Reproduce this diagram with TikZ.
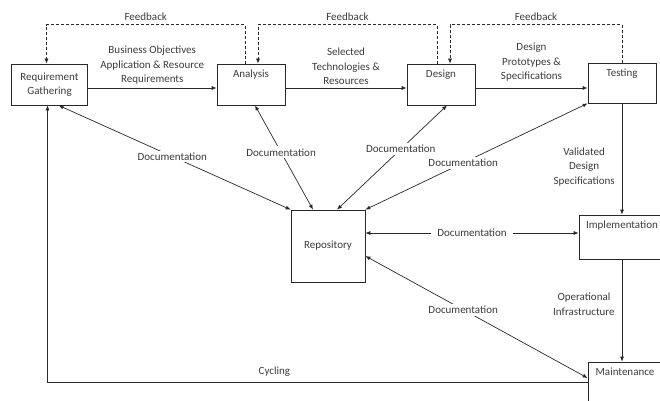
\documentclass[tikz,border=0pt]{standalone}
\usepackage{fontspec}
\setmainfont{Carlito}
\usetikzlibrary{arrows.meta,positioning}
\definecolor{ink}{RGB}{40,40,40}
\definecolor{txt}{RGB}{60,60,60}
\tikzset{
  stg/.style={draw=ink,line width=0.7pt,minimum width=68pt,minimum height=41pt,inner sep=0pt},
  stgtxt/.style={anchor=north,yshift=-4.5pt,inner sep=2pt,text=txt},
  lbl/.style={text=txt,align=center,inner sep=1pt},
  dlbl/.style={text=txt,fill=white,inner xsep=6pt,inner ysep=2pt},
  eflow/.style={->,draw=ink,line width=0.7pt},
  efb/.style={->,draw=ink,line width=0.6pt,densely dashed},
  edoc/.style={<->,draw=ink,line width=0.7pt},
}

\begin{document}
\begin{tikzpicture}[x=1pt,y=-1pt,>={Latex[length=5pt,width=4pt]},font=\fontsize{11}{14.5}\selectfont]
\useasboundingbox (0,0) rectangle (660,400);
\node[stg,align=center,text=txt,minimum width=76pt] (nreq) at (49.5,84.5) {Requirement\\Gathering};
\node[stg,label={[stgtxt]north:Analysis}] (nana) at (251,84.5) {};
\node[stg,label={[stgtxt]north:Design}] (ndes) at (441,84.5) {};
\node[stg,minimum height=40pt,label={[stgtxt]north:Testing}] (ntst) at (622,83) {};
\node[stg,text=txt,minimum width=74pt,minimum height=72pt] (nrep) at (328,246) {Repository};
\node[stg,minimum width=86pt,minimum height=44pt,label={[stgtxt]north:Implementation}] (nimp) at (622,237) {};
\node[stg,minimum width=74pt,minimum height=44pt,label={[stgtxt]north:Maintenance}] (nmnt) at (625,384) {};
\coordinate (nimpin) at ([yshift=4pt]nimp.west);
% main flow
\draw[eflow] ([yshift=-3.5pt]nreq.east) -- node[lbl,above=2pt]{Business Objectives\\Application \& Resource\\Requirements} ([yshift=-3.5pt]nana.west);
\draw[eflow] ([yshift=-3.5pt]nana.east) -- node[lbl,above=2pt]{Selected\\Technologies \&\\Resources} ([yshift=-3.5pt]ndes.west);
\draw[eflow] ([yshift=-3.5pt]ndes.east) -- node[lbl,above=5pt]{Design\\Prototypes \&\\Specifications} ([yshift=-5pt]ntst.west);
\draw[eflow] (ntst.south) -- node[lbl,pos=0.57,left=6pt]{Validated\\Design\\Specifications} (nimp.north);
\draw[eflow] (nimp.south) -- node[lbl,pos=0.44,left=6pt]{Operational\\Infrastructure} (nimp.south |- nmnt.north);
\draw[eflow] ([yshift=2pt]nmnt.west) -| node[lbl,pos=0.29,above=4pt]{Cycling} ([xshift=-2pt]nreq.south);
% feedback
\draw[efb] ([xshift=-6pt]nana.north) -- ++(0,-39) -| node[lbl,pos=0.25,above=3pt]{Feedback} ([xshift=-3pt]nreq.north);
\draw[efb] ([xshift=-4pt]ndes.north) -- ++(0,-39) -| node[lbl,pos=0.25,above=3pt]{Feedback} ([xshift=7pt]nana.north);
\draw[efb] (ntst.north) -- ++(0,-38) -| node[lbl,pos=0.25,above=3pt]{Feedback} ([xshift=9pt]ndes.north);
% documentation
\draw[edoc] ([xshift=9pt]nreq.south) -- node[dlbl,pos=0.49]{Documentation} (nrep.north west);
\draw[edoc] ([xshift=4pt]nana.south) -- node[dlbl,pos=0.45]{Documentation} ([xshift=-15pt]nrep.north);
\draw[edoc] ([xshift=6pt]ndes.south) -- node[dlbl,pos=0.42]{Documentation} ([xshift=9pt]nrep.north);
\draw[edoc] (ntst.south west) -- node[dlbl,pos=0.56]{Documentation} (nrep.north east);
\draw[edoc] (nimpin -| nrep.east) -- node[dlbl]{Documentation} (nimpin);
\draw[edoc] ([yshift=-10pt]nrep.east) -- node[dlbl,pos=0.44]{Documentation} ([yshift=6pt]nmnt.west);
\end{tikzpicture}
\end{document}
